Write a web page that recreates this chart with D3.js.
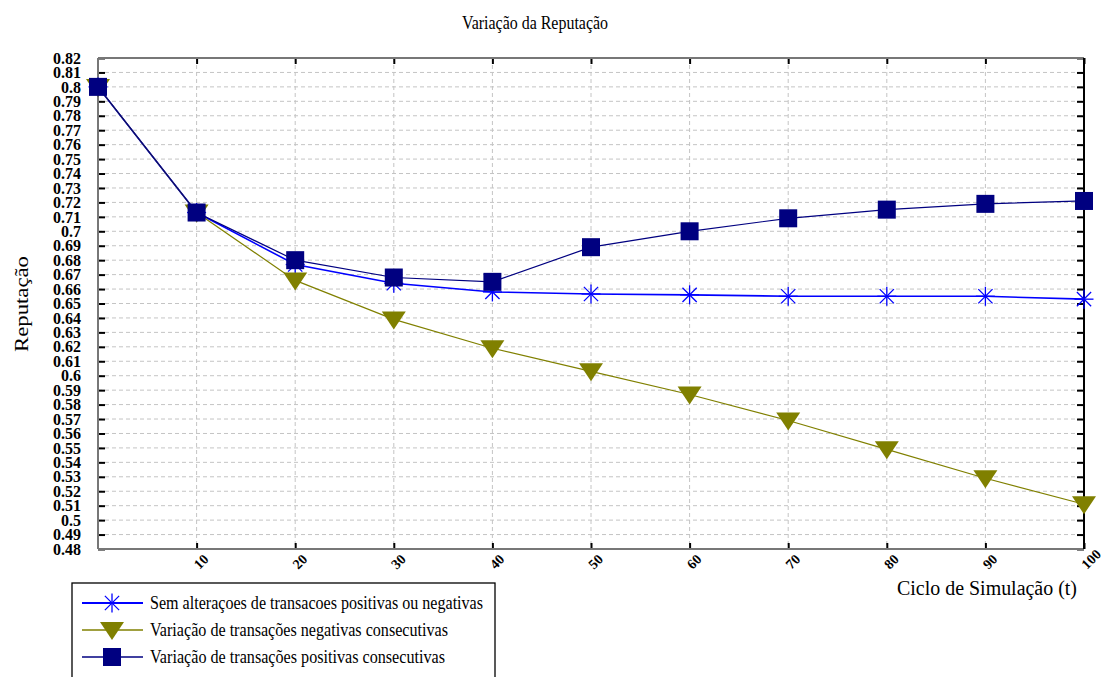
<!DOCTYPE html>
<html><head><meta charset="utf-8">
<script src="https://cdn.jsdelivr.net/npm/d3@7"></script>
<style>html,body{margin:0;padding:0;background:#fff;}svg{display:block;}</style>
</head><body>
<svg id="chart" width="1114" height="677"></svg>
<script>
const cycles = [0,10,20,30,40,50,60,70,80,90,100];
const semAlteracoes = [0.800,0.713,0.677,0.664,0.658,0.6566,0.656,0.655,0.655,0.655,0.653];
const negativas = [0.800,0.713,0.666,0.639,0.619,0.603,0.587,0.569,0.549,0.529,0.511];
const positivas = [0.800,0.713,0.680,0.668,0.665,0.689,0.700,0.709,0.715,0.719,0.721];
const seriesNames = ["Sem alteraçoes de transacoes positivas ou negativas","Variação de transações negativas consecutivas","Variação de transações positivas consecutivas"];
const xTicks = [10,20,30,40,50,60,70,80,90,100];
const yTicks = [0.48,0.49,0.5,0.51,0.52,0.53,0.54,0.55,0.56,0.57,0.58,0.59,0.6,0.61,0.62,0.63,0.64,0.65,0.66,0.67,0.68,0.69,0.7,0.71,0.72,0.73,0.74,0.75,0.76,0.77,0.78,0.79,0.8,0.81,0.82];
const titleText = "Variação da Reputação";
const xLabel = "Ciclo de Simulação (t)";
const yLabel = "Reputação";

const svg = d3.select("#chart");
const L=98,R=1084,T=58,B=549;
const x = d3.scaleLinear().domain([0,100]).range([L,R]);
const y = d3.scaleLinear().domain([0.48,0.82]).range([B,T]);
const serif = "'Liberation Serif','Times New Roman',serif";

// grid
const g = svg.append("g");
g.selectAll(".hg").data(yTicks.filter(v=>v>0.481&&v<0.819)).enter().append("line")
  .attr("x1",L).attr("x2",R).attr("y1",d=>y(d)).attr("y2",d=>y(d))
  .attr("stroke","#c4c4c4").attr("stroke-width",1).attr("stroke-dasharray","4,3");
g.selectAll(".vg").data(xTicks.filter(v=>v<100)).enter().append("line")
  .attr("y1",T).attr("y2",B).attr("x1",d=>x(d)).attr("x2",d=>x(d))
  .attr("stroke","#c4c4c4").attr("stroke-width",1).attr("stroke-dasharray","4,3");

// axes with inward ticks
const axL = d3.axisLeft(y).tickValues(yTicks).tickSize(-7).tickFormat("");
const axR = d3.axisRight(y).tickValues(yTicks).tickSize(-7).tickFormat("");
const axB = d3.axisBottom(x).tickValues(xTicks).tickSize(-6).tickFormat("");
const axT = d3.axisTop(x).tickValues(xTicks).tickSize(-6).tickFormat("");
function styleAx(sel,col){sel.select(".domain").remove();sel.selectAll("line").attr("stroke",col).attr("stroke-width",2);}
svg.append("g").attr("transform",`translate(${L},0)`).call(axL).call(s=>styleAx(s,"#000"));
svg.append("g").attr("transform",`translate(${R},0)`).call(axR).call(s=>styleAx(s,"#000"));
svg.append("g").attr("transform",`translate(0,${B})`).call(axB).call(s=>styleAx(s,"#000"));
svg.append("g").attr("transform",`translate(0,${T})`).call(axT).call(s=>styleAx(s,"#000"));

// border
svg.append("line").attr("x1",L).attr("x2",L).attr("y1",T).attr("y2",B).attr("stroke","#777").attr("stroke-width",2);
svg.append("line").attr("x1",L).attr("x2",R).attr("y1",T).attr("y2",T).attr("stroke","#777").attr("stroke-width",2);
svg.append("line").attr("x1",L).attr("x2",R).attr("y1",B).attr("y2",B).attr("stroke","#777").attr("stroke-width",2);
svg.append("line").attr("x1",R).attr("x2",R).attr("y1",T).attr("y2",B).attr("stroke","#000").attr("stroke-width",2);

// y tick labels
svg.append("g").selectAll("text").data(yTicks).enter().append("text")
  .attr("x",81).attr("y",d=>y(d)+2).attr("text-anchor","end").attr("dominant-baseline","middle")
  .attr("font-family",serif).attr("font-weight","bold").attr("font-size",16)
  .text(d=>String(+d.toFixed(2)));
// x tick labels rotated
svg.append("g").selectAll("text").data(xTicks).enter().append("text")
  .attr("transform",d=>`translate(${x(d)+3},${B+21}) rotate(-45)`)
  .attr("font-family",serif).attr("font-weight","bold").attr("font-size",14)
  .text(d=>d);

// titles
svg.append("text").attr("x",462).attr("y",29)
  .attr("font-family",serif).attr("font-size",18).attr("textLength",146).attr("lengthAdjust","spacingAndGlyphs").text(titleText);
svg.append("text").attr("transform",`translate(28,352) rotate(-90)`)
  .attr("font-family",serif).attr("font-size",18).attr("textLength",96).attr("lengthAdjust","spacingAndGlyphs").text(yLabel);
svg.append("text").attr("x",897).attr("y",595)
  .attr("font-family",serif).attr("font-size",20).attr("textLength",180).attr("lengthAdjust","spacingAndGlyphs").text(xLabel);

// lines
const pts = arr => cycles.map((c,i)=>[c,arr[i]]);
const line = d3.line().x(d=>x(d[0])).y(d=>y(d[1]));
const colors = ["#0000ff","#808000","#000080"];
const datas = [semAlteracoes,negativas,positivas];
const widths = [1.6,1.2,1.2];

function asterisk(sel,cx,cy,r,col){
  const gg = sel.append("g").attr("stroke",col).attr("stroke-width",1.3);
  [[0,-r,0,r],[-r,0,r,0],[-r*0.75,-r*0.75,r*0.75,r*0.75],[-r*0.75,r*0.75,r*0.75,-r*0.75]].forEach(a=>
    gg.append("line").attr("x1",cx+a[0]).attr("y1",cy+a[1]).attr("x2",cx+a[2]).attr("y2",cy+a[3]));
}
function tri(sel,cx,cy,col){
  sel.append("path").attr("d",`M${cx-12},${cy-8}L${cx+12},${cy-8}L${cx},${cy+10}Z`).attr("fill",col);
}
function sq(sel,cx,cy,col){
  sel.append("rect").attr("x",cx-9).attr("y",cy-9).attr("width",18).attr("height",18).attr("fill",col);
}
const markers = [
  (s,cx,cy)=>asterisk(s,cx,cy,9.5,colors[0]),
  (s,cx,cy)=>tri(s,cx,cy,colors[1]),
  (s,cx,cy)=>sq(s,cx,cy,colors[2])
];
datas.forEach((arr,k)=>{
  const gs = svg.append("g");
  gs.append("path").datum(pts(arr)).attr("d",line).attr("fill","none").attr("stroke",colors[k]).attr("stroke-width",widths[k]);
  pts(arr).forEach(p=>markers[k](gs,x(p[0]),y(p[1])));
});

// legend
const lg = svg.append("g");
lg.append("rect").attr("x",72).attr("y",583).attr("width",423).attr("height",120).attr("fill","#fff").attr("stroke","#000").attr("stroke-width",1.3);
const rowsY=[603,630,657];
const legendLen=[333,298,295];
seriesNames.forEach((n,k)=>{
  lg.append("line").attr("x1",82).attr("x2",143).attr("y1",rowsY[k]).attr("y2",rowsY[k]).attr("stroke",colors[k]).attr("stroke-width",widths[k]+0.4);
  markers[k](lg,112,rowsY[k]);
  lg.append("text").attr("x",150).attr("y",rowsY[k]+6).attr("font-family",serif).attr("font-size",18)
    .attr("textLength",legendLen[k]).attr("lengthAdjust","spacingAndGlyphs").text(n);
});
</script>
</body></html>
